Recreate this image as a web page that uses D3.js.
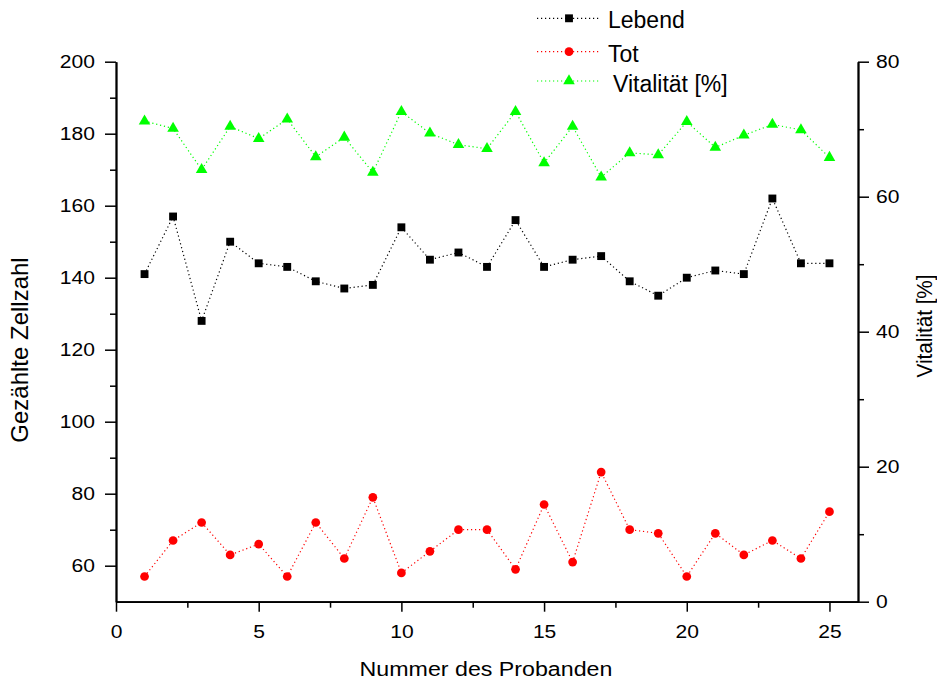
<!DOCTYPE html>
<html>
<head>
<meta charset="utf-8">
<script src="https://cdn.jsdelivr.net/npm/d3@7"></script>
<style>
body { margin: 0; background: #fff; }
svg text { font-family: "Liberation Sans", Arial, sans-serif; fill: #000; }
</style>
</head>
<body>
<div id="chart"></div>
<script>
var proband = d3.range(1, 26);
var lebend = [141, 157, 128, 150, 144, 143, 139, 137, 138, 154, 145, 147, 143,
	156, 143, 145, 146, 139, 135, 140, 142, 141, 162, 144, 144];
var tot = [57, 67, 72, 63, 66, 57, 72, 62, 79, 58, 64, 70, 70,
	59, 77, 61, 86, 70, 69, 57, 69, 63, 67, 62, 75];
var vitalitaet = [71.2, 70.1, 64.0, 70.4, 68.6, 71.5, 65.9, 68.8, 63.6, 72.6, 69.4, 67.7, 67.1,
	72.6, 65.0, 70.4, 62.9, 66.5, 66.2, 71.1, 67.3, 69.1, 70.7, 69.9, 65.8];
var xTicks = [0, 5, 10, 15, 20, 25];
var yLeftTicks = [60, 80, 100, 120, 140, 160, 180, 200];
var yRightTicks = [0, 20, 40, 60, 80];

var width = 937, height = 684;
var margin = {top: 61.7, right: 79, bottom: 82.3, left: 116};

var svg = d3.select("#chart").append("svg")
	.attr("width", width)
	.attr("height", height);

var x = d3.scaleLinear().domain([0, 26]).range([margin.left, width - margin.right]);
var yL = d3.scaleLinear().domain([50, 200]).range([height - margin.bottom, margin.top]);
var yR = d3.scaleLinear().domain([0, 80]).range([height - margin.bottom, margin.top]);

// the original text is drawn a bit wider than Liberation Sans
function stretch(sel, k) {
	sel.each(function() {
		var w = this.getComputedTextLength();
		d3.select(this).attr("textLength", w * k).attr("lengthAdjust", "spacingAndGlyphs");
	});
}

function styleAxis(g) {
	g.select(".domain").attr("stroke", "#000").attr("stroke-width", 1.8);
	g.selectAll(".tick line").attr("stroke", "#000").attr("stroke-width", 1.5);
	g.selectAll(".tick text").attr("font-size", 18).attr("fill", "#000").call(stretch, 1.17);
}

// minor ticks first, majors on top
svg.append("g")
	.attr("transform", "translate(0," + (height - margin.bottom) + ")")
	.call(d3.axisBottom(x).tickValues([2.5, 7.5, 12.5, 17.5, 22.5]).tickSize(6).tickFormat("").tickSizeOuter(0))
	.call(styleAxis);
svg.append("g")
	.attr("transform", "translate(0," + (height - margin.bottom) + ")")
	.call(d3.axisBottom(x).tickValues(xTicks).tickSize(10).tickPadding(14).tickSizeOuter(0))
	.call(styleAxis);

svg.append("g")
	.attr("transform", "translate(" + margin.left + ",0)")
	.call(d3.axisLeft(yL).tickValues([70, 90, 110, 130, 150, 170, 190]).tickSize(6).tickFormat("").tickSizeOuter(0))
	.call(styleAxis);
svg.append("g")
	.attr("transform", "translate(" + margin.left + ",0)")
	.call(d3.axisLeft(yL).tickValues(yLeftTicks).tickSize(11).tickPadding(10).tickSizeOuter(0))
	.call(styleAxis);

svg.append("g")
	.attr("transform", "translate(" + (width - margin.right) + ",0)")
	.call(d3.axisRight(yR).tickValues([10, 30, 50, 70]).tickSize(6).tickFormat("").tickSizeOuter(0))
	.call(styleAxis);
svg.append("g")
	.attr("transform", "translate(" + (width - margin.right) + ",0)")
	.call(d3.axisRight(yR).tickValues(yRightTicks).tickSize(11).tickPadding(7).tickSizeOuter(0))
	.call(styleAxis);

// axis titles
svg.append("text")
	.attr("x", 486)
	.attr("y", 676)
	.attr("text-anchor", "middle")
	.attr("font-size", 20)
	.text("Nummer des Probanden")
	.call(stretch, 1.16);
svg.append("text")
	.attr("transform", "translate(28,350) rotate(-90)")
	.attr("text-anchor", "middle")
	.attr("font-size", 24)
	.text("Gezählte Zellzahl");
svg.append("text")
	.attr("transform", "translate(932,326) rotate(-90)")
	.attr("text-anchor", "middle")
	.attr("font-size", 22)
	.attr("textLength", 103)
	.attr("lengthAdjust", "spacingAndGlyphs")
	.text("Vitalität [%]");

var series = [
	{name: "Lebend", values: lebend, y: yL, color: "#000", shape: d3.symbolSquare, size: 62},
	{name: "Tot", values: tot, y: yL, color: "#ff0000", shape: d3.symbolCircle, size: 60},
	{name: "Vitalität [%]", values: vitalitaet, y: yR, color: "#00ff00", shape: d3.symbolTriangle, size: 58}
];

series.forEach(function(s) {
	var line = d3.line()
		.x(function(d, i) { return x(proband[i]); })
		.y(function(d) { return s.y(d); });
	svg.append("path")
		.datum(s.values)
		.attr("d", line)
		.attr("fill", "none")
		.attr("stroke", s.color)
		.attr("stroke-width", 1.2)
		.attr("stroke-dasharray", "1.2,2.8");
	svg.append("g").selectAll("path")
		.data(s.values).enter()
		.append("path")
		.attr("d", d3.symbol().type(s.shape).size(s.size))
		.attr("transform", function(d, i) { return "translate(" + x(proband[i]) + "," + s.y(d) + ")"; })
		.attr("fill", s.color);
});

// legend
var legendY = [18.3, 51.7, 81];
var legendTextX = [71, 71, 76];
var legendBase = [28.3, 61.7, 91.7];
series.forEach(function(s, i) {
	var g = svg.append("g").attr("transform", "translate(537," + legendY[i] + ")");
	g.append("line")
		.attr("x1", 0).attr("x2", 64)
		.attr("stroke", s.color)
		.attr("stroke-width", 1.2)
		.attr("stroke-dasharray", "1.2,2.8");
	g.append("path")
		.attr("d", d3.symbol().type(s.shape).size(s.size))
		.attr("transform", "translate(32,0)")
		.attr("fill", s.color);
	svg.append("text")
		.attr("x", 537 + legendTextX[i])
		.attr("y", legendBase[i])
		.attr("font-size", 23)
		.text(s.name);
});
</script>
</body>
</html>
